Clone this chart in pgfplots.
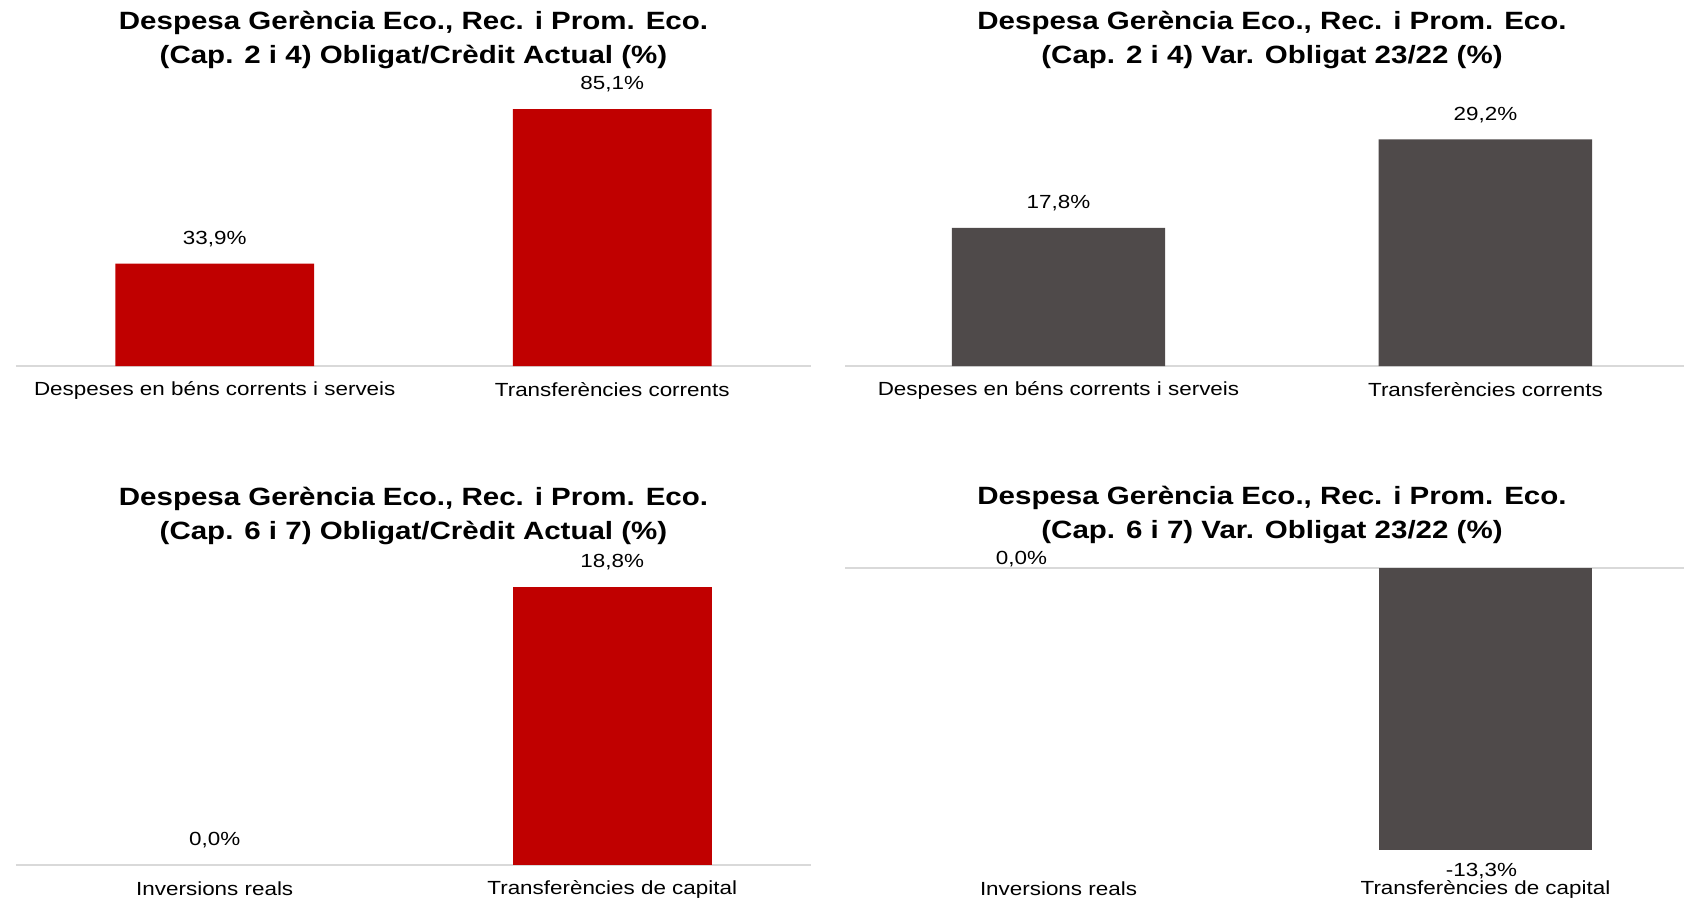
\documentclass[border=0pt]{standalone}
\usepackage{pgfplots}
\pgfplotsset{compat=1.18}
\usepackage{fontspec}
\setmainfont{Liberation Sans}[FakeStretch=1.18]
\definecolor{barred}{RGB}{192,0,0}
\definecolor{bargray}{RGB}{79,74,74}
\definecolor{axisgray}{RGB}{217,217,217}
\pgfplotsset{
  panel/.style={
    scale only axis,
    anchor=south west,
    ybar,
    bar width=0.5,
    xmin=-0.5,
    axis line style={draw=none},
    major tick length=0pt,
    ytick=\empty,
    xtick={0,1},
    extra y ticks={0},
    extra y tick labels={},
    extra y tick style={grid=major},
    grid style={axisgray, line width=1pt},
    xticklabel style={font=\fontsize{9.5}{11}\selectfont, anchor=center, yshift=-12pt},
    /pgf/number format/.cd, fixed, fixed zerofill, precision=1, use comma, assume math mode=true,
    /pgfplots/.cd,
    nodes near coords={\pgfmathprintnumber{\pgfplotspointmeta}\%},
    nodes near coords style={font=\fontsize{9.5}{11}\selectfont, anchor=center, yshift=12.25pt},
  },
  bars/.style={bar shift=0pt, draw=none, fill=#1},
  nobar/.style={bar shift=0pt, draw=none, fill=none},
}
\newcommand{\ttl}{\fontsize{12.5}{17}\selectfont\bfseries}
\begin{document}
\begin{tikzpicture}
\useasboundingbox (0,0) rectangle (842pt,-451pt);

% top left
\begin{axis}[panel, at={(8pt,-183pt)}, width=397.5pt, height=135.9pt,
  xmax=1.5, ymin=0, ymax=90,
  xticklabels={Despeses en béns corrents i serveis, Transferències corrents}]
\addplot[bars=barred] coordinates {(0,33.9) (1,85.1)};
\end{axis}
\node[align=center, font=\ttl] at (206.75pt,-20pt) {Despesa Gerència Eco., Rec. i Prom. Eco.\\(Cap. 2 i 4) Obligat/Crèdit Actual (\%)};

% top right
\begin{axis}[panel, at={(422.5pt,-183pt)}, width=419.5pt, height=128pt,
  xmax=1.465, ymin=0, ymax=33,
  xticklabels={Despeses en béns corrents i serveis, Transferències corrents}]
\addplot[bars=bargray] coordinates {(0,17.8) (1,29.2)};
\end{axis}
\node[align=center, font=\ttl] at (636pt,-20pt) {Despesa Gerència Eco., Rec. i Prom. Eco.\\(Cap. 2 i 4) Var. Obligat 23/22 (\%)};

% bottom left
\begin{axis}[panel, at={(8pt,-432.5pt)}, width=397.5pt, height=148pt,
  xmax=1.5, ymin=0, ymax=20,
  xticklabels={Inversions reals, Transferències de capital}]
\addplot[nobar] coordinates {(0,0.0)};
\addplot[bars=barred] coordinates {(1,18.8)};
\end{axis}
\node[align=center, font=\ttl] at (206.75pt,-257.75pt) {Despesa Gerència Eco., Rec. i Prom. Eco.\\(Cap. 6 i 7) Obligat/Crèdit Actual (\%)};

% bottom right
\begin{axis}[panel, at={(422.5pt,-432.5pt)}, width=419.5pt, height=148.4pt,
  xmax=1.465, ymin=-14, ymax=0,
  xticklabels={Inversions reals, Transferències de capital}]
\addplot[nobar, nodes near coords style={xshift=-18.5pt, yshift=-7.5pt}] coordinates {(0,0.0)};
\addplot[bars=bargray, nodes near coords style={xshift=-2pt, yshift=-22.5pt}] coordinates {(1,-13.3)};
\end{axis}
\node[align=center, font=\ttl] at (636pt,-257.25pt) {Despesa Gerència Eco., Rec. i Prom. Eco.\\(Cap. 6 i 7) Var. Obligat 23/22 (\%)};
\end{tikzpicture}
\end{document}
